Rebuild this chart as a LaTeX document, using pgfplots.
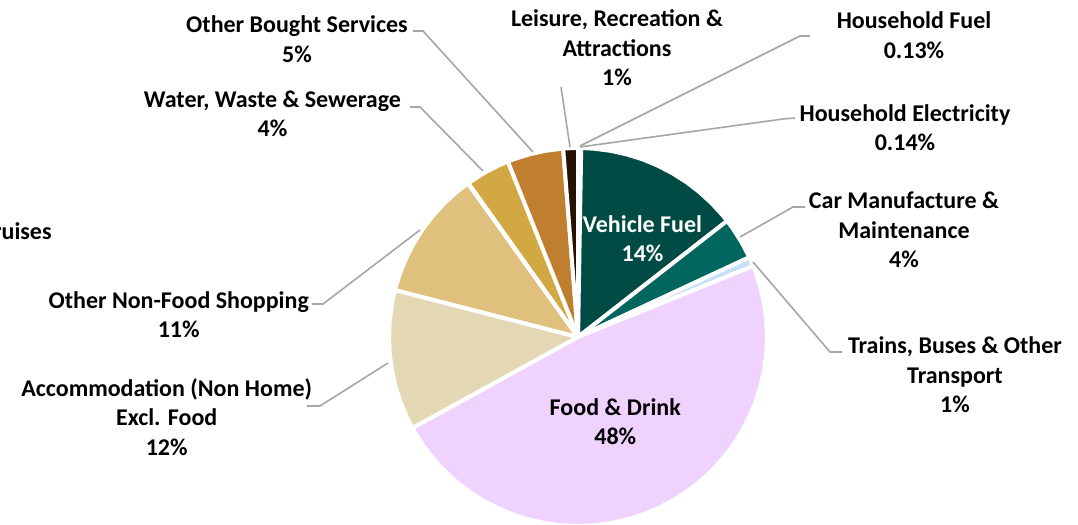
\documentclass[border=0pt]{standalone}
\usepackage{fontspec}
\setmainfont{Carlito}
\usepackage{pgfplots}
\pgfplotsset{compat=1.18}
\usepackage{tikz}

% slice colours
\definecolor{cHFuel}{RGB}{120,140,160}
\definecolor{cHElec}{RGB}{160,180,200}
\definecolor{cVeh}{RGB}{0,76,69}
\definecolor{cCar}{RGB}{0,102,94}
\definecolor{cTrain}{RGB}{198,224,247}
\definecolor{cFood}{RGB}{240,210,255}
\definecolor{cAcc}{RGB}{228,216,180}
\definecolor{cShop}{RGB}{223,192,124}
\definecolor{cCruise}{RGB}{200,170,110}
\definecolor{cWater}{RGB}{210,168,67}
\definecolor{cServ}{RGB}{191,127,47}
\definecolor{cLeis}{RGB}{38,18,0}
\definecolor{cLead}{RGB}{166,166,166}

% shares (%): HFuel 0.13, HElec 0.14, Vehicle 14.2, Car 3.6, Trains 0.8, Food 48.13,
% Accommodation 12.0, Non-Food 11.1, Cruises 0.05, Water 3.8, Services 4.8, Leisure 1.25
% wedges below are (angle, radius) pairs, clockwise from 12 o'clock

\tikzset{
  lbl/.style={font=\bfseries\fontsize{12}{14.75}\selectfont, align=center, text=black, inner sep=0pt}
}
\pgfplotsset{
  wedge/.style={draw=white, line width=2pt, line join=round, data cs=polar},
  lead/.style={draw=cLead, line width=0.8pt, no markers}
}

\begin{document}
\begin{tikzpicture}
\begin{axis}[
	width=539pt, height=262.5pt,
	scale only axis,
	xmin=-578, xmax=500,
	ymin=-188, ymax=337,
	hide axis,
	clip=false
]
\coordinate (bl) at (rel axis cs:0,0);
\coordinate (tr) at (rel axis cs:1,1);

\addplot[wedge, fill=cHFuel] coordinates {(90,0) (90,189) (89.532,189) (89.532,0)};
\addplot[wedge, fill=cHElec] coordinates {(89.532,0) (89.532,189) (89.028,189) (89.028,0)};
\addplot[wedge, fill=cVeh] coordinates {(89.028,0) (89.028,189) (85,189) (80,189) (75,189) (70,189) (65,189) (60,189) (55,189) (50,189) (45,189) (40,189) (37.908,189) (37.908,0)};
\addplot[wedge, fill=cCar] coordinates {(37.908,0) (37.908,189) (35,189) (30,189) (24.948,189) (24.948,0)};
\addplot[wedge, fill=cTrain] coordinates {(24.948,0) (24.948,189) (23.5,189) (22.068,189) (22.068,0)};
\addplot[wedge, fill=cFood] coordinates {(22.068,0) (22.068,189) (20,189) (15,189) (10,189) (5,189) (0,189) (-5,189) (-10,189) (-15,189) (-20,189) (-25,189) (-30,189) (-35,189) (-40,189) (-45,189) (-50,189) (-55,189) (-60,189) (-65,189) (-70,189) (-75,189) (-80,189) (-85,189) (-90,189) (-95,189) (-100,189) (-105,189) (-110,189) (-115,189) (-120,189) (-125,189) (-130,189) (-135,189) (-140,189) (-145,189) (-150,189) (-151.2,189) (-151.2,0)};
\addplot[wedge, fill=cAcc] coordinates {(208.8,0) (208.8,189) (205,189) (200,189) (195,189) (190,189) (185,189) (180,189) (175,189) (170,189) (165.6,189) (165.6,0)};
\addplot[wedge, fill=cShop] coordinates {(165.6,0) (165.6,189) (160,189) (155,189) (150,189) (145,189) (140,189) (135,189) (130,189) (125.64,189) (125.64,0)};
\addplot[wedge, fill=cCruise] coordinates {(125.64,0) (125.64,189) (125.46,189) (125.46,0)};
\addplot[wedge, fill=cWater] coordinates {(125.46,0) (125.46,189) (120,189) (115,189) (111.78,189) (111.78,0)};
\addplot[wedge, fill=cServ] coordinates {(111.78,0) (111.78,189) (110,189) (105,189) (100,189) (95,189) (94.5,189) (94.5,0)};
\addplot[wedge, fill=cLeis] coordinates {(94.5,0) (94.5,189) (92,189) (90,189) (90,0)};

% leader lines
\addplot[lead] coordinates {(232,301) (222,301) (2,191)};
\addplot[lead] coordinates {(217,219) (205,218) (2,190)};
\addplot[lead] coordinates {(227,130) (215,130) (162,100)};
\addplot[lead] coordinates {(264,-15) (252,-15) (175,75)};
\addplot[lead] coordinates {(-17,250) (-8,190)};
\addplot[lead] coordinates {(-165,306) (-155,306) (-45,185)};
\addplot[lead] coordinates {(-168,230) (-158,230) (-95,166)};
\addplot[lead] coordinates {(-266,33) (-255,33) (-158,107)};
\addplot[lead] coordinates {(-271,-69) (-258,-69) (-190,-26)};

% labels
\node[lbl] at (axis cs:336,302) {Household Fuel\\0.13\%};
\node[lbl] at (axis cs:327,209.5) {Household Electricity\\0.14\%};
\node[lbl] at (axis cs:326,107) {Car Manufacture \&\\Maintenance\\4\%};
\node[lbl] at (axis cs:377,-38) {Trains, Buses \& Other\\Transport\\1\%};
\node[lbl] at (axis cs:39,289) {Leisure, Recreation \&\\Attractions\\1\%};
\node[lbl] at (axis cs:-281,298) {Other Bought Services\\5\%};
\node[lbl] at (axis cs:-305.5,223) {Water, Waste \& Sewerage\\4\%};
\node[lbl] at (axis cs:-399.3,22.5) {Other Non-Food Shopping\\11\%};
\node[lbl] at (axis cs:-411.3,-80) {Accommodation (Non Home)\\Excl. Food\\12\%};
\node[lbl, anchor=east] at (axis cs:-526,104) {Holidays \& Cruises};
\node[lbl, text=white] at (axis cs:64.5,98.2) {Vehicle Fuel\\14\%};
\node[lbl] at (axis cs:37.3,-84.7) {Food \& Drink\\48\%};
\end{axis}
\pgfresetboundingbox
\useasboundingbox (bl) rectangle (tr);
\end{tikzpicture}
\end{document}
